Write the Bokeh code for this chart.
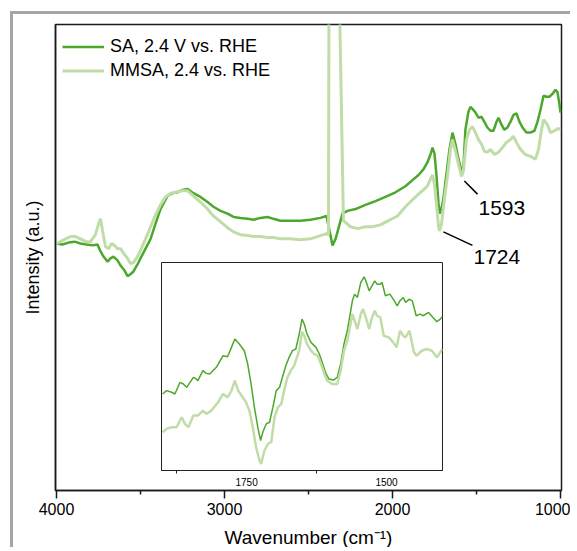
from bokeh.plotting import figure
from bokeh.models import Range1d, FixedTicker, Label
from bokeh.layouts import column
from bokeh.embed import file_html
from bokeh.resources import INLINE

# ---------------- data ----------------
# main panel, SA 2.4 V vs. RHE
sa_wn = [4000, 3964, 3929, 3893, 3857, 3821, 3786, 3756, 3738, 3720, 3696, 3679, 3661, 3637, 3619,
         3595, 3577, 3560, 3542, 3518, 3500, 3470, 3440, 3411, 3381, 3339, 3310, 3280, 3250, 3220,
         3185, 3143, 3101, 3066, 3024, 2982, 2946, 2905, 2863, 2827, 2786, 2744, 2708, 2667, 2607,
         2548, 2488, 2429, 2393, 2357, 2339, 2322, 2298, 2268, 2220, 2161, 2101, 2042, 1982, 1923,
         1881, 1845, 1816, 1792, 1774, 1762, 1750, 1738, 1726, 1718, 1708, 1697, 1679, 1661, 1643,
         1625, 1607, 1589, 1578, 1566, 1548, 1536, 1524, 1506, 1488, 1470, 1453, 1435, 1417, 1399,
         1381, 1369, 1351, 1334, 1316, 1298, 1280, 1262, 1244, 1226, 1203, 1179, 1155, 1137, 1119,
         1101, 1083, 1066, 1048, 1030, 1018, 1006, 1000]
sa_int = [53.0, 52.8, 53.2, 53.4, 53.0, 52.8, 52.6, 52.8, 51.3, 50.2, 49.1, 49.8, 50.2, 49.4, 48.3,
          47.2, 46.0, 46.4, 47.0, 48.5, 49.8, 51.9, 54.0, 57.2, 60.4, 63.2, 63.8, 64.0, 64.5, 64.7,
          63.8, 63.0, 61.9, 60.9, 60.0, 59.4, 58.7, 58.5, 58.3, 58.1, 58.5, 58.7, 58.3, 57.9, 57.9,
          57.9, 58.1, 58.5, 58.9, 52.6, 54.0, 56.2, 59.4, 60.0, 60.4, 61.3, 62.1, 63.0, 64.0, 65.3,
          66.6, 67.7, 68.9, 70.4, 72.1, 73.6, 72.3, 67.5, 61.5, 59.4, 60.5, 62.6, 67.9, 73.2, 76.8,
          74.3, 71.1, 68.5, 69.4, 77.4, 81.3, 82.3, 81.9, 81.1, 80.0, 80.2, 79.1, 77.9, 77.2, 77.2,
          79.1, 80.0, 78.5, 77.4, 77.9, 79.1, 80.6, 80.9, 79.1, 77.9, 76.8, 76.8, 77.2, 79.1, 81.7,
          84.7, 84.5, 84.5, 85.1, 86.0, 85.5, 82.8, 81.1]

# main panel, MMSA 2.4 vs. RHE
mm_wn = [4000, 3976, 3946, 3917, 3887, 3857, 3827, 3798, 3768, 3750, 3738, 3726, 3708, 3690, 3673,
         3655, 3637, 3619, 3601, 3577, 3560, 3542, 3518, 3500, 3470, 3440, 3411, 3381, 3351, 3321,
         3292, 3262, 3220, 3185, 3143, 3101, 3066, 3024, 2982, 2946, 2905, 2863, 2827, 2786, 2744,
         2708, 2667, 2607, 2548, 2488, 2429, 2393, 2381, 2378, 2318, 2292, 2250, 2208, 2161, 2119,
         2072, 2024, 1970, 1923, 1875, 1833, 1792, 1774, 1762, 1750, 1738, 1726, 1720, 1708, 1691,
         1673, 1655, 1643, 1625, 1607, 1589, 1578, 1560, 1542, 1524, 1506, 1488, 1470, 1453, 1435,
         1417, 1393, 1369, 1345, 1322, 1298, 1280, 1262, 1238, 1209, 1179, 1149, 1131, 1113, 1101,
         1078, 1060, 1036, 1012, 1000]
mm_int = [53.0, 53.4, 54.0, 54.5, 54.5, 54.0, 53.4, 53.4, 54.9, 57.2, 58.3, 55.7, 52.3, 51.9, 53.0,
          52.6, 51.9, 51.9, 50.9, 49.8, 48.7, 48.9, 50.2, 51.5, 54.0, 56.6, 59.1, 61.3, 63.0, 63.8,
          64.0, 64.3, 64.3, 63.2, 61.9, 60.4, 58.9, 57.7, 56.4, 55.5, 54.9, 54.7, 54.5, 54.5, 54.3,
          54.3, 54.0, 54.0, 53.8, 54.0, 54.7, 55.1, 54.9, 110.0, 110.0, 57.9, 56.6, 56.2, 56.6, 56.6,
          57.0, 57.9, 58.9, 60.9, 62.6, 64.0, 65.3, 66.8, 67.7, 65.7, 61.5, 56.6, 55.7, 57.2, 62.6,
          67.4, 73.2, 75.3, 72.8, 70.0, 67.4, 68.5, 75.3, 77.4, 78.1, 76.8, 75.3, 74.3, 72.8, 72.6,
          73.2, 72.1, 72.6, 73.6, 74.7, 75.3, 76.0, 74.7, 73.2, 72.1, 71.7, 71.1, 73.2, 77.4, 79.6,
          78.5, 76.8, 77.2, 77.7, 77.4]

# inset (1900-1400 cm-1), SA
in_sa_wn = [1900, 1893, 1884, 1878, 1869, 1863, 1857, 1845, 1840, 1837, 1828, 1822, 1816, 1804, 1792,
            1784, 1777, 1771, 1763, 1754, 1748, 1742, 1736, 1730, 1725, 1721, 1715, 1709, 1703, 1697,
            1691, 1686, 1680, 1674, 1668, 1662, 1656, 1651, 1647, 1642, 1635, 1626, 1620, 1614, 1608,
            1603, 1595, 1588, 1582, 1576, 1570, 1561, 1557, 1552, 1546, 1540, 1537, 1531, 1526, 1521,
            1517, 1511, 1508, 1502, 1494, 1488, 1481, 1476, 1470, 1466, 1459, 1454, 1447, 1440, 1434,
            1425, 1417, 1410, 1404, 1400]
in_sa_int = [36.8, 38.4, 37.6, 36.8, 42.4, 41.6, 40.0, 44.8, 44.0, 43.2, 48.0, 46.7, 46.4, 49.6, 55.2,
             54.7, 59.2, 63.2, 60.8, 57.6, 51.2, 41.6, 30.4, 20.8, 14.4, 18.4, 22.4, 23.2, 30.4, 38.4,
             40.0, 44.8, 50.4, 54.4, 57.6, 58.4, 65.6, 72.8, 70.4, 65.6, 61.6, 59.2, 56.0, 51.2, 46.4,
             44.0, 43.5, 44.8, 51.2, 60.8, 67.2, 81.6, 84.8, 83.2, 90.4, 93.1, 91.2, 86.4, 88.8, 91.2,
             89.6, 89.6, 90.4, 84.0, 84.8, 82.4, 79.2, 81.6, 83.2, 80.8, 82.4, 81.6, 74.4, 75.2, 74.4,
             76.0, 73.6, 71.5, 72.8, 73.9]

# inset, MMSA
in_mm_wn = [1900, 1893, 1884, 1875, 1866, 1860, 1854, 1845, 1837, 1828, 1822, 1813, 1801, 1792, 1784,
            1777, 1771, 1765, 1757, 1751, 1745, 1739, 1733, 1727, 1724, 1718, 1712, 1706, 1700, 1694,
            1688, 1683, 1677, 1671, 1665, 1656, 1651, 1647, 1642, 1635, 1629, 1623, 1617, 1611, 1606,
            1597, 1588, 1582, 1576, 1570, 1561, 1557, 1552, 1546, 1542, 1537, 1531, 1526, 1521, 1517,
            1511, 1505, 1496, 1488, 1482, 1476, 1470, 1466, 1459, 1451, 1446, 1437, 1428, 1419, 1410,
            1400]
in_mm_int = [18.4, 20.0, 20.8, 20.8, 25.6, 22.4, 20.8, 26.4, 26.4, 28.8, 27.2, 28.8, 32.8, 36.8, 35.2,
             38.4, 43.2, 38.4, 35.2, 32.8, 28.8, 20.8, 11.2, 4.8, 3.2, 9.6, 12.8, 13.6, 25.6, 30.4,
             32.0, 38.4, 44.8, 48.0, 50.4, 57.6, 66.7, 64.8, 60.8, 57.6, 56.0, 55.2, 51.2, 46.4, 43.2,
             41.6, 41.6, 48.0, 57.6, 62.4, 75.2, 72.0, 68.0, 75.2, 77.6, 73.6, 68.0, 73.6, 76.8, 74.4,
             73.6, 64.8, 64.0, 61.6, 59.2, 67.2, 64.8, 64.0, 67.2, 56.8, 55.2, 57.6, 58.4, 57.6, 54.4,
             58.4]

main_ticks = [4000, 3000, 2000, 1000]
main_minor = [3500, 2500, 1500]
inset_ticks = [1750, 1500]
inset_minor = [1875, 1625]

series_labels = ["SA, 2.4 V vs. RHE", "MMSA, 2.4 vs. RHE"]
peak_labels = ["1593", "1724"]

# ---------------- styling ----------------
FONT = "Liberation Sans"
DARK = "#4CA82B"
LIGHT = "#C0DDA8"
INK = "#1a1a1a"

p = figure(width=560, height=536, output_backend="svg", toolbar_location=None, title=None,
           x_range=Range1d(4006, 994), y_range=Range1d(0, 100),
           min_border_left=42, min_border_right=12, min_border_top=10, min_border_bottom=56)
p.styles = {"margin-left": "10px", "margin-top": "11px",
            "border-left": "3px solid #a5a5a5", "border-top": "3px solid #a5a5a5"}

p.line(sa_wn, sa_int, color=DARK, line_width=2.5, legend_label=series_labels[0])
p.line(mm_wn, mm_int, color=LIGHT, line_width=3, legend_label=series_labels[1])

p.xgrid.visible = False
p.ygrid.visible = False
p.outline_line_color = INK
p.outline_line_width = 1.5

xa = p.xaxis[0]
xa.ticker = FixedTicker(ticks=main_ticks, minor_ticks=main_minor)
xa.major_tick_out = 8
xa.major_tick_in = 0
xa.minor_tick_out = 4
xa.minor_tick_in = 0
xa.axis_line_color = INK
xa.axis_line_width = 1.5
xa.major_tick_line_color = INK
xa.major_tick_line_width = 1.5
xa.minor_tick_line_color = INK
xa.minor_tick_line_width = 1.5
xa.major_label_text_font = FONT
xa.major_label_text_font_size = "16px"
xa.major_label_text_color = "black"
xa.major_label_standoff = 4
xa.axis_label = "Wavenumber (cm\u207b\u00b9)"
xa.axis_label_text_font = FONT
xa.axis_label_text_font_size = "19px"
xa.axis_label_text_font_style = "normal"
xa.axis_label_text_color = "black"
xa.axis_label_standoff = 9

ya = p.yaxis[0]
ya.ticker = FixedTicker(ticks=[])
ya.major_tick_out = 0
ya.major_tick_in = 0
ya.minor_tick_out = 0
ya.minor_tick_in = 0
ya.major_label_standoff = 0
ya.axis_line_color = INK
ya.axis_line_width = 1.5
ya.axis_label = "Intensity (a.u.)"
ya.axis_label_text_font = FONT
ya.axis_label_text_font_size = "18px"
ya.axis_label_text_font_style = "normal"
ya.axis_label_text_color = "black"
ya.axis_label_standoff = 13

lg = p.legend[0]
lg.location = (7, 409)
lg.margin = 0
lg.padding = 0
lg.spacing = 3
lg.glyph_width = 42
lg.glyph_height = 21
lg.label_height = 21
lg.label_standoff = 6
lg.label_text_font = FONT
lg.label_text_font_size = "18px"
lg.label_text_color = "black"
lg.border_line_color = None
lg.background_fill_alpha = 0

# peak annotations (leader lines + labels)
p.segment(x0=[1572, 1697], y0=[66.4, 55.5], x1=[1494, 1524], y1=[63.6, 52.6],
          line_color="black", line_width=1.5)
p.add_layout(Label(x=1488, y=60.6, text=peak_labels[0], text_font=FONT, text_font_size="21px",
                   text_baseline="middle", text_color="black"))
p.add_layout(Label(x=1518, y=50.2, text=peak_labels[1], text_font=FONT, text_font_size="21px",
                   text_baseline="middle", text_color="black"))

# ---------------- inset ----------------
# (the column aligns frame borders horizontally, so borders match the main figure)
q = figure(width=335, height=233, output_backend="svg", toolbar_location=None, title=None,
           y_axis_location=None,
           x_range=Range1d(1902, 1400), y_range=Range1d(0, 100),
           min_border_left=42, min_border_right=12, min_border_top=5, min_border_bottom=20)
q.styles = {"position": "absolute", "left": "119px", "top": "257px"}
q.background_fill_alpha = 1
q.border_fill_alpha = 0
q.line(in_sa_wn, in_sa_int, color=DARK, line_width=1.5)
q.line(in_mm_wn, in_mm_int, color=LIGHT, line_width=2.5)
q.xgrid.visible = False
q.ygrid.visible = False
q.outline_line_color = "#222222"
q.outline_line_width = 1
qa = q.xaxis[0]
qa.ticker = FixedTicker(ticks=inset_ticks, minor_ticks=inset_minor)
qa.major_tick_out = 0
qa.major_tick_in = 0
qa.minor_tick_out = 3
qa.minor_tick_in = 0
qa.axis_line_color = "#222222"
qa.minor_tick_line_color = "#222222"
qa.major_label_text_font = FONT
qa.major_label_text_font_size = "10px"
qa.major_label_text_color = "black"
qa.major_label_standoff = 4

layout = column(p, q)
layout.styles = {"position": "relative"}

open("out.html", "w").write(file_html(layout, INLINE))
